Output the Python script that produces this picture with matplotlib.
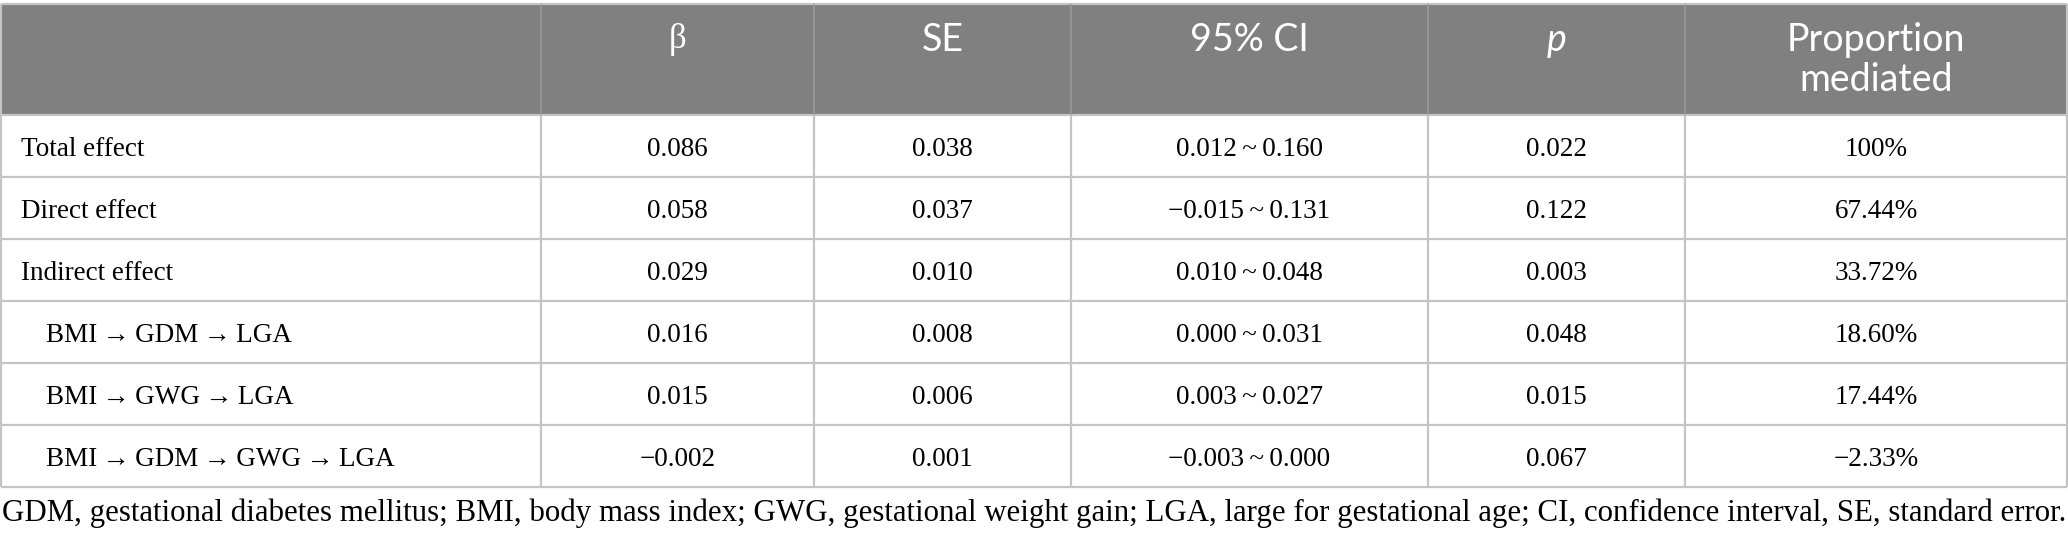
import matplotlib.pyplot as plt
from matplotlib.patches import Rectangle

# table content
row_labels = ['Total effect', 'Direct effect', 'Indirect effect',
              'BMI\u2009\u2192\u2009GDM\u2009\u2192\u2009LGA',
              'BMI\u2009\u2192\u2009GWG\u2009\u2192\u2009LGA',
              'BMI\u2009\u2192\u2009GDM\u2009\u2192\u2009GWG\u2009\u2192\u2009LGA']
row_indent = [False, False, False, True, True, True]
beta = ['0.086', '0.058', '0.029', '0.016', '0.015', '\u22120.002']
se = ['0.038', '0.037', '0.010', '0.008', '0.006', '0.001']
ci_low = ['0.012', '\u22120.015', '0.010', '0.000', '0.003', '\u22120.003']
ci_high = ['0.160', '0.131', '0.048', '0.031', '0.027', '0.000']
p_values = ['0.022', '0.122', '0.003', '0.048', '0.015', '0.067']
proportion = ['100%', '67.44%', '33.72%', '18.60%', '17.44%', '\u22122.33%']
footnote = ('GDM, gestational diabetes mellitus; BMI, body mass index; GWG, gestational weight gain; '
            'LGA, large for gestational age; CI, confidence interval, SE, standard error.')

W, H = 2068, 538
col_edges = [1, 541, 814, 1071, 1428, 1685, 2067]
header_top, header_bot = 4, 115
row_h = 62
grid_col = '#c4c4c4'
head_col = '#808080'
serif = ['Liberation Serif', 'DejaVu Serif']
sans = ['Lato', 'DejaVu Sans']

fig = plt.figure(figsize=(W / 100, H / 100), dpi=100)
ax = fig.add_axes([0, 0, 1, 1])
ax.set_xlim(0, W)
ax.set_ylim(H, 0)
ax.axis('off')

# header band
ax.add_patch(Rectangle((col_edges[0], header_top), col_edges[-1] - col_edges[0],
                       header_bot - header_top, facecolor=head_col, edgecolor='none'))

n = len(row_labels)
row_lines = [header_bot + i * row_h for i in range(n + 1)]
table_bot = row_lines[-1]

# grid
ax.hlines([header_top] + row_lines, col_edges[0], col_edges[-1], color=grid_col, lw=1.6)
ax.vlines([col_edges[0], col_edges[-1]], header_top, table_bot, color=grid_col, lw=1.6)
ax.vlines(col_edges[1:-1], header_top, header_bot, color='#9a9a9a', lw=1.2)
ax.vlines(col_edges[1:-1], header_bot, table_bot, color=grid_col, lw=1.6)

centers = [(col_edges[i] + col_edges[i + 1]) / 2 for i in range(len(col_edges) - 1)]

# header labels
hy = 40
hs = 27
hkw = dict(color='white', fontsize=hs, family=sans, ha='center', va='center')
ax.text(centers[1], hy, '\u03b2', color='white', fontsize=25, family=serif, ha='center', va='center')
ax.text(centers[2], hy, 'SE', **hkw)
ax.text(centers[3], hy, '95% CI', **hkw)
ax.text(centers[4], hy, 'p', style='italic', **hkw)
ax.text(centers[5], hy, 'Proportion', **hkw)
ax.text(centers[5], 80, 'mediated', **hkw)

# body
fs = 19.5
for i in range(n):
    yc = row_lines[i] + row_h / 2
    x0 = 46 if row_indent[i] else 21
    ax.text(x0, yc, row_labels[i], fontsize=fs, family=serif, ha='left', va='center_baseline')
    ax.text(centers[1], yc, beta[i], fontsize=fs, family=serif, ha='center', va='center_baseline')
    ax.text(centers[2], yc, se[i], fontsize=fs, family=serif, ha='center', va='center_baseline')
    ax.text(centers[3], yc, ci_low[i] + '\u2009~\u2009' + ci_high[i], fontsize=fs, family=serif,
            ha='center', va='center_baseline')
    ax.text(centers[4], yc, p_values[i], fontsize=fs, family=serif, ha='center', va='center_baseline')
    ax.text(centers[5], yc, proportion[i], fontsize=fs, family=serif, ha='center', va='center_baseline')

ax.text(2, 510, footnote, fontsize=22.2, family=serif, ha='left', va='center_baseline')

fig.savefig('out.png', dpi=100)
